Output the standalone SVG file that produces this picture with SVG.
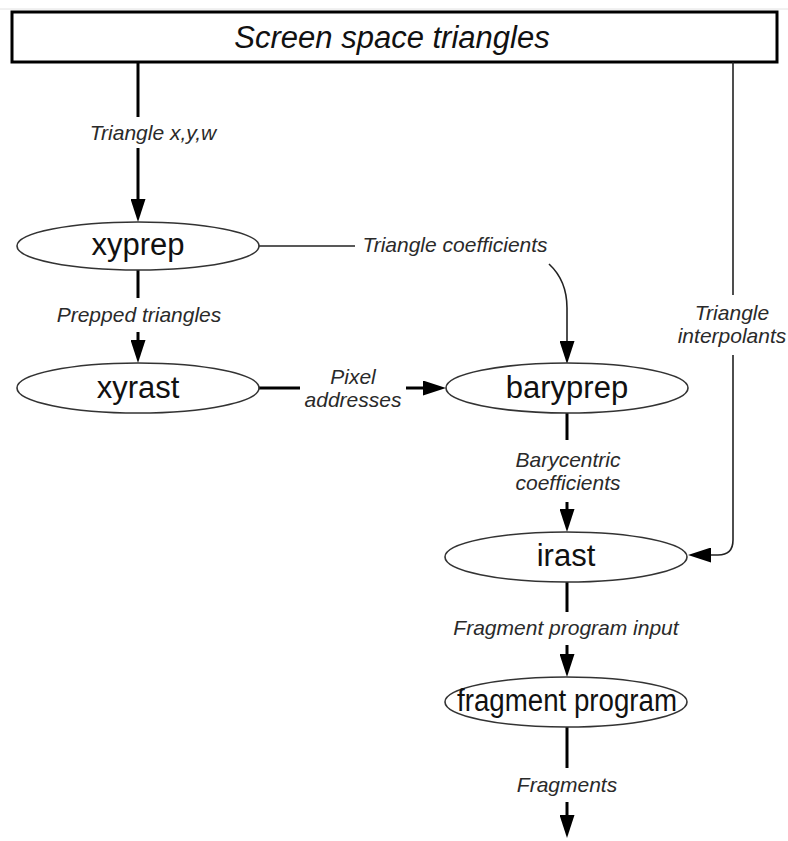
<svg xmlns="http://www.w3.org/2000/svg" width="788" height="841" viewBox="0 0 788 841">
<style>
  .node ellipse { fill: #fff; stroke: #333; stroke-width: 1.6; }
  .ntext { font-family: "Liberation Sans", Arial, sans-serif; font-size: 31px; fill: #111; text-anchor: middle; }
  .lbl { font-family: "Liberation Sans", Arial, sans-serif; font-size: 21px; font-style: italic; fill: #2a2a2a; text-anchor: middle; }
  .thick { stroke: #000; stroke-width: 3; fill: none; }
  .thin { stroke: #222; stroke-width: 1.6; fill: none; }
</style>
<defs>
  <marker id="arr" markerUnits="userSpaceOnUse" markerWidth="23" markerHeight="15" refX="15" refY="7.5" orient="auto">
    <path d="M0,0 L23,7.5 L0,15 z" fill="#000"/>
  </marker>
</defs>
<rect width="788" height="841" fill="#fff"/>
<line x1="0" y1="9" x2="788" y2="9" stroke="#e2e2e2" stroke-width="1"/>

<g id="screen-space-triangles">
  <rect x="12" y="12" width="765" height="50" fill="#fff" stroke="#000" stroke-width="3"/>
  <text x="392" y="48" font-family="Liberation Sans, Arial, sans-serif" font-size="31" font-style="italic" text-anchor="middle" fill="#111">Screen space triangles</text>
</g>

<g id="connectors">
  <path class="thick" d="M138,62 L138,117"/>
  <path class="thick" d="M138,148 L138,214" marker-end="url(#arr)"/>
  <path class="thick" d="M138,270 L138,298"/>
  <path class="thick" d="M138,332 L138,355" marker-end="url(#arr)"/>
  <path class="thick" d="M259,388 L300,388"/>
  <path class="thick" d="M406,388 L438,388" marker-end="url(#arr)"/>
  <path class="thin" d="M259,246 L355,246"/>
  <path class="thin" d="M549,264 C562,276 567,290 567,308 L567,356" marker-end="url(#arr)"/>
  <path class="thick" d="M567,413 L567,440"/>
  <path class="thick" d="M567,502 L567,524" marker-end="url(#arr)"/>
  <path class="thick" d="M567,582 L567,612"/>
  <path class="thick" d="M567,645 L567,669" marker-end="url(#arr)"/>
  <path class="thick" d="M567,727 L567,768"/>
  <path class="thick" d="M567,802 L567,830" marker-end="url(#arr)"/>
  <path class="thin" d="M733,62 L733,295"/>
  <path class="thin" d="M733,355 L733,540 Q733,555 718,555 L696,555" marker-end="url(#arr)"/>

  <text class="lbl" x="153" y="140">Triangle x,y,w</text>
  <text class="lbl" x="139" y="322">Prepped triangles</text>
  <text class="lbl" x="455" y="252">Triangle coefficients</text>
  <text class="lbl" x="732" y="320">Triangle</text>
  <text class="lbl" x="732" y="343">interpolants</text>
  <text class="lbl" x="353" y="384">Pixel</text>
  <text class="lbl" x="353" y="407">addresses</text>
  <text class="lbl" x="568" y="467">Barycentric</text>
  <text class="lbl" x="568" y="490">coefficients</text>
  <text class="lbl" x="566" y="635">Fragment program input</text>
  <text class="lbl" x="567" y="792">Fragments</text>
</g>

<g id="xyprep" class="node">
  <ellipse cx="138" cy="246" rx="121" ry="24"/>
  <text class="ntext" x="138" y="255">xyprep</text>
</g>
<g id="xyrast" class="node">
  <ellipse cx="138" cy="388" rx="121" ry="25"/>
  <text class="ntext" x="138" y="398">xyrast</text>
</g>
<g id="baryprep" class="node">
  <ellipse cx="567" cy="388" rx="121" ry="25"/>
  <text class="ntext" x="567" y="398">baryprep</text>
</g>
<g id="irast" class="node">
  <ellipse cx="566" cy="557" rx="121" ry="25"/>
  <text class="ntext" x="566" y="566">irast</text>
</g>
<g id="fragment-program" class="node">
  <ellipse cx="566" cy="702" rx="121" ry="25"/>
  <text class="ntext" x="567" y="711" textLength="220" lengthAdjust="spacingAndGlyphs">fragment program</text>
</g>
</svg>
